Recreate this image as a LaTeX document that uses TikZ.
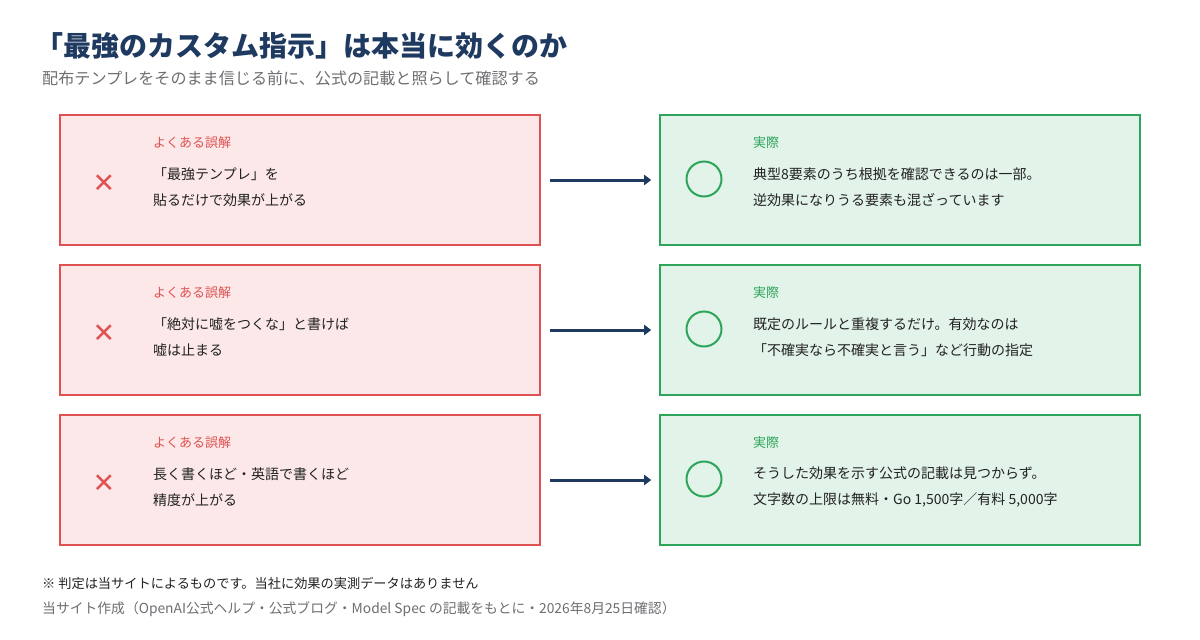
\documentclass[tikz,border=0pt]{standalone}
\usepackage{fontspec}
\setmainfont{Noto Sans CJK JP}
\newfontfamily\symfont{DejaVu Sans}
\usetikzlibrary{arrows.meta, positioning}
\definecolor{titlenavy}{RGB}{31, 58, 96}
\definecolor{subgray}{RGB}{110, 110, 115}
\definecolor{bodyink}{RGB}{34, 34, 34}
\definecolor{mythred}{RGB}{222, 82, 82}
\definecolor{mythfill}{RGB}{252, 232, 232}
\definecolor{factgreen}{RGB}{46, 165, 90}
\definecolor{factfill}{RGB}{226, 243, 233}

\begin{document}
\begin{tikzpicture}[x=1pt, y=-1pt,
  mythbox/.style={draw=mythred, fill=mythfill, line width=1.6pt,
    minimum width=480pt, minimum height=130pt, inner sep=0pt},
  factbox/.style={draw=factgreen, fill=factfill, line width=1.6pt,
    minimum width=480pt, minimum height=130pt, inner sep=0pt},
  tag/.style={anchor=west, inner sep=0pt, font=\fontsize{13}{13}\selectfont},
  body/.style={anchor=west, inner sep=0pt, align=left, text=bodyink,
    font=\fontsize{14}{26}\selectfont},
  cross/.style={text=mythred, inner sep=0pt, font=\symfont\bfseries\fontsize{27}{27}\selectfont},
  okring/.style={circle, draw=factgreen, line width=2pt, minimum size=35pt, inner sep=0pt},
  flow/.style={-{Triangle[length=7pt,width=10pt]}, line width=3pt, draw=titlenavy,
    shorten <=9pt, shorten >=8pt}]
  \fill[white] (0,0) rectangle (1200,640);

  % heading
  \node[anchor=west, inner sep=0pt, text=titlenavy, font=\fontsize{28}{28}\selectfont\bfseries]
    (title) at (35,46) {「最強のカスタム指示」は本当に効くのか};
  \node[anchor=west, inner sep=0pt, text=subgray, font=\fontsize{16.1}{16}\selectfont]
    (subtitle) at (42,78) {配布テンプレをそのまま信じる前に、公式の記載と照らして確認する};

  % row 1
  \node[mythbox] (myth1) at (300,180) {};
  \node[factbox] (fact1) at (900,180) {};
  \node[cross] (x1) at (104,184) {✕};
  \node[okring] (ok1) at (704,179) {};
  \node[tag, text=mythred] (mtag1) at (153,143) {よくある誤解};
  \node[tag, text=factgreen] (ftag1) at (753,143) {実際};
  \node[body] (mtext1) at (153,187) {「最強テンプレ」を\\貼るだけで効果が上がる};
  \node[body] (ftext1) at (753,187) {典型8要素のうち根拠を確認できるのは一部。\\逆効果になりうる要素も混ざっています};
  \draw[flow] (myth1) -- (fact1);

  % row 2
  \node[mythbox] (myth2) at (300,330) {};
  \node[factbox] (fact2) at (900,330) {};
  \node[cross] (x2) at (104,334) {✕};
  \node[okring] (ok2) at (704,329) {};
  \node[tag, text=mythred] (mtag2) at (153,293) {よくある誤解};
  \node[tag, text=factgreen] (ftag2) at (753,293) {実際};
  \node[body] (mtext2) at (153,337) {「絶対に嘘をつくな」と書けば\\嘘は止まる};
  \node[body] (ftext2) at (753,337) {既定のルールと重複するだけ。有効なのは\\「不確実なら不確実と言う」など行動の指定};
  \draw[flow] (myth2) -- (fact2);

  % row 3
  \node[mythbox] (myth3) at (300,480) {};
  \node[factbox] (fact3) at (900,480) {};
  \node[cross] (x3) at (104,484) {✕};
  \node[okring] (ok3) at (704,479) {};
  \node[tag, text=mythred] (mtag3) at (153,443) {よくある誤解};
  \node[tag, text=factgreen] (ftag3) at (753,443) {実際};
  \node[body] (mtext3) at (153,487) {長く書くほど・英語で書くほど\\精度が上がる};
  \node[body] (ftext3) at (753,487) {そうした効果を示す公式の記載は見つからず。\\文字数の上限は無料・Go 1,500字／有料 5,000字};
  \draw[flow] (myth3) -- (fact3);

  % footnotes
  \node[anchor=west, inner sep=0pt, text=bodyink, font=\fontsize{13.2}{13}\selectfont]
    (note) at (42,583) {※ 判定は当サイトによるものです。当社に効果の実測データはありません};
  \node[anchor=west, inner sep=0pt, text=subgray, font=\fontsize{13.8}{14}\selectfont]
    (source) at (42,609) {当サイト作成（OpenAI公式ヘルプ・公式ブログ・Model Spec の記載をもとに・2026年8月25日確認）};
\end{tikzpicture}
\end{document}
